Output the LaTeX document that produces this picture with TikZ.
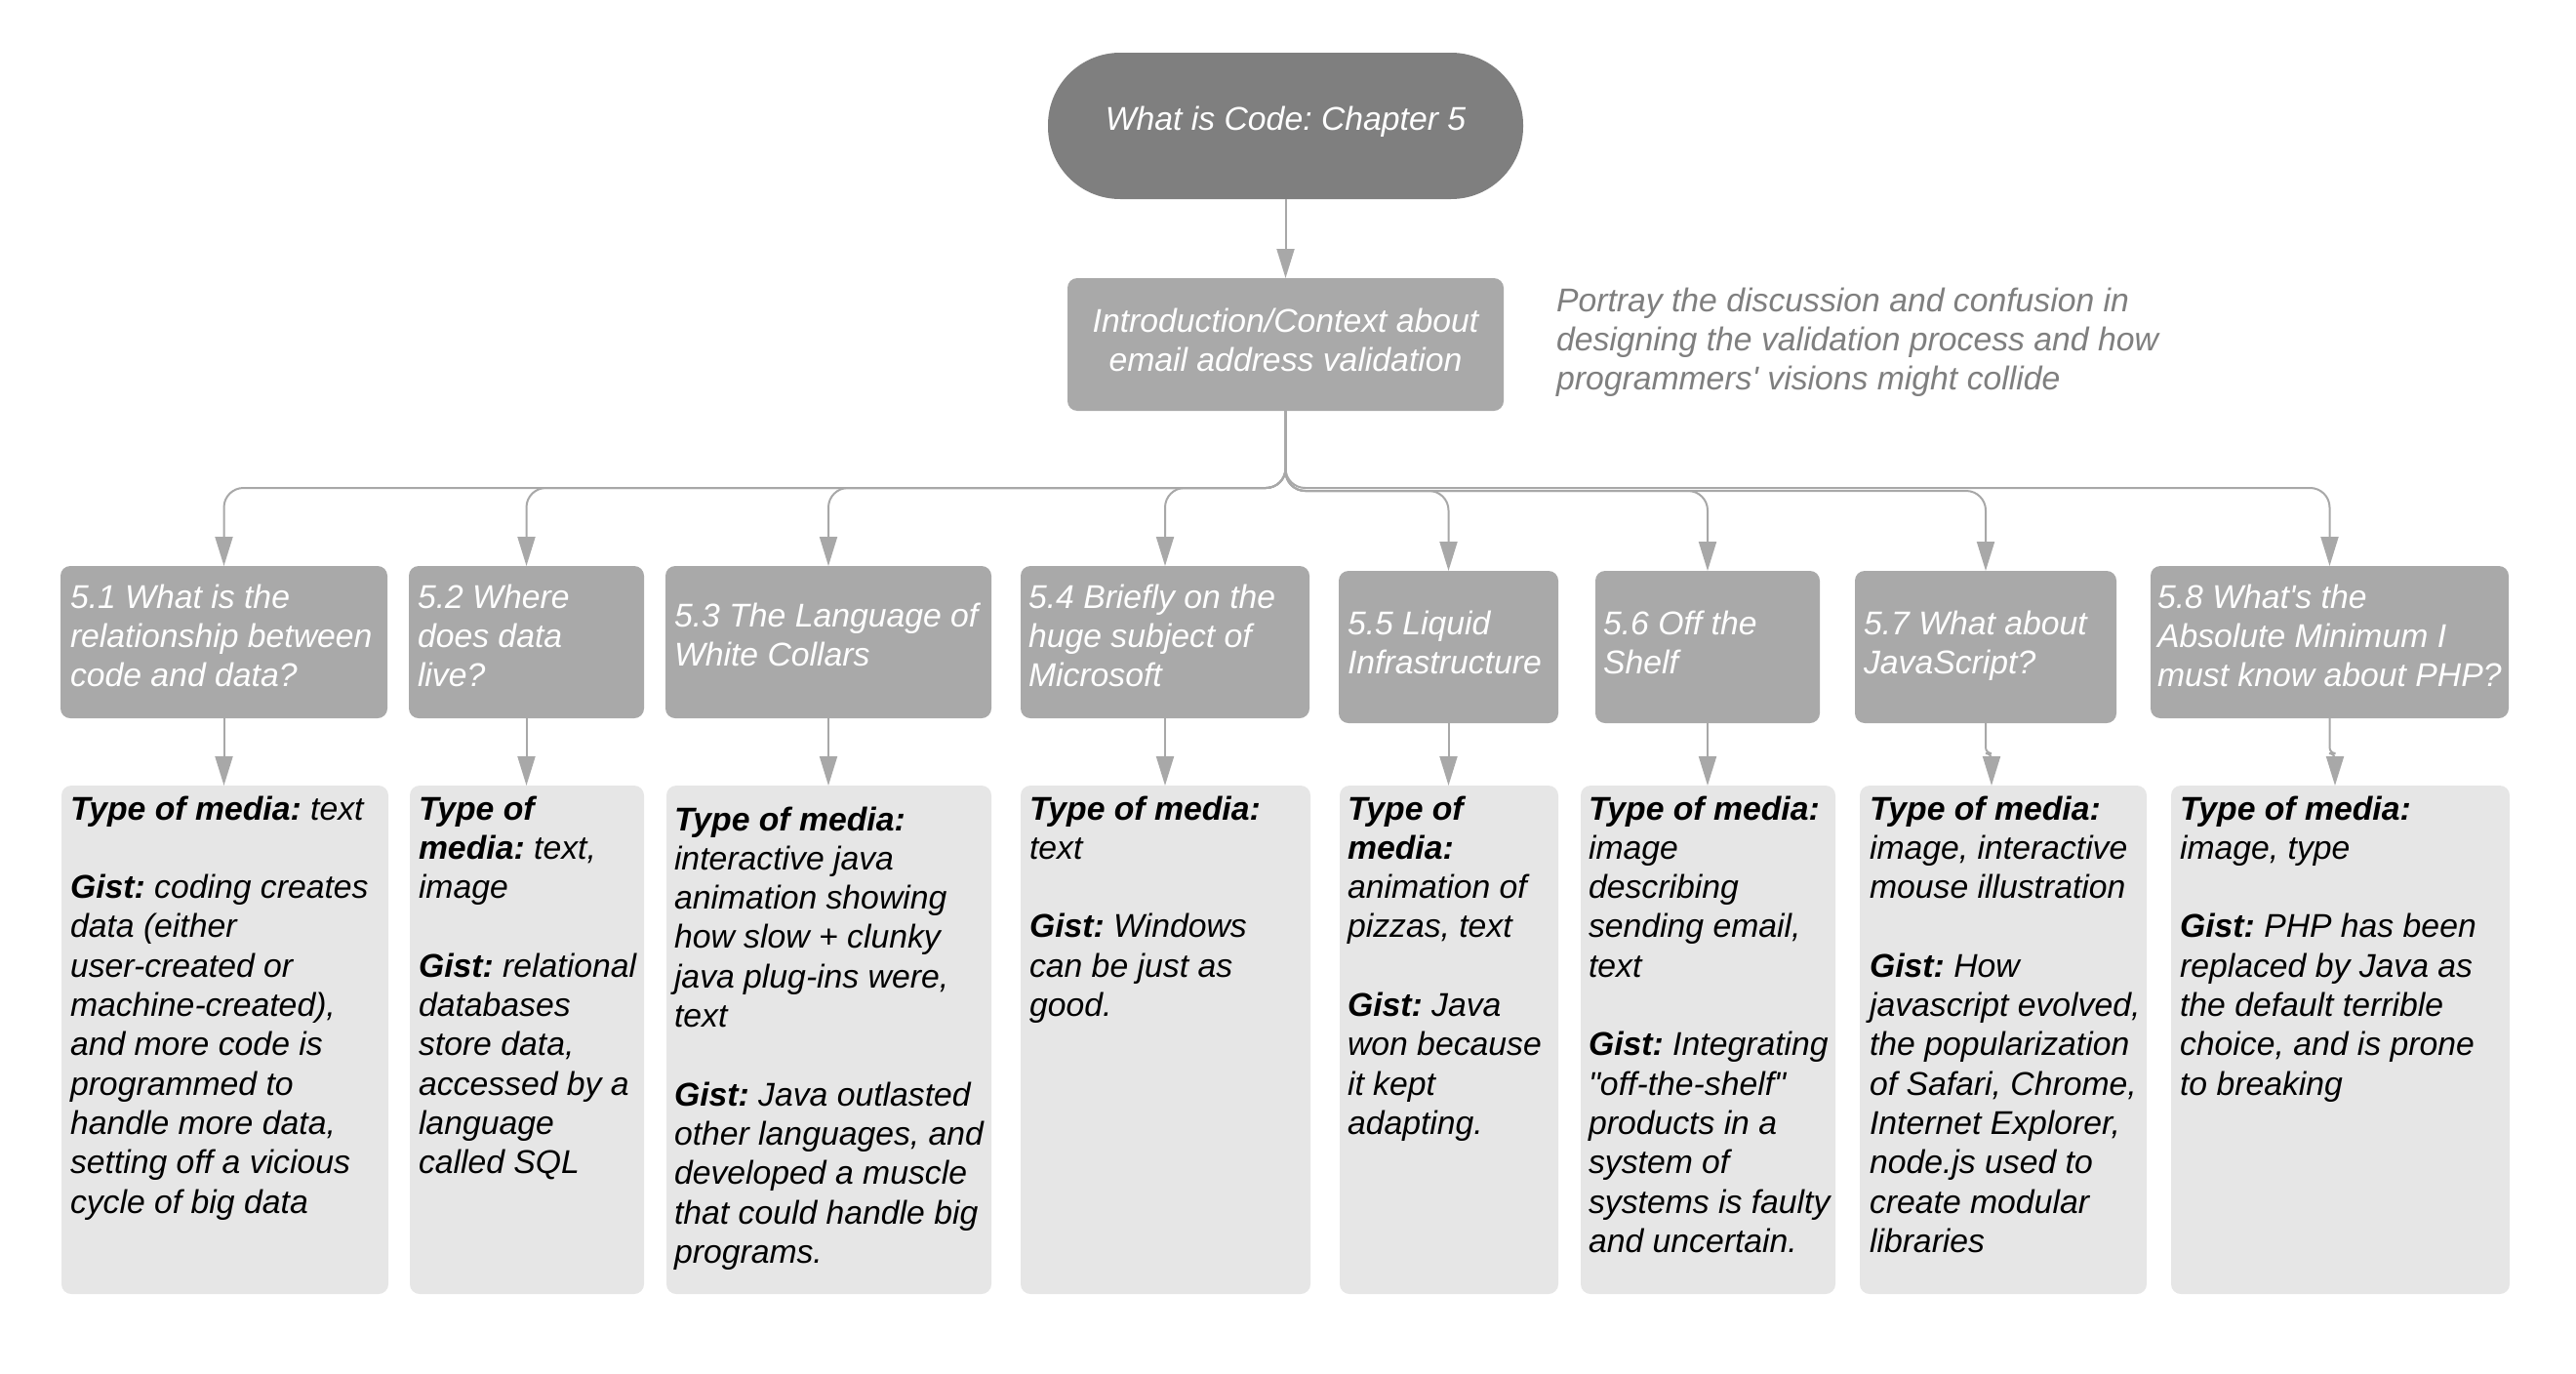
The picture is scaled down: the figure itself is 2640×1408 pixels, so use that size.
\documentclass[tikz,border=0pt]{standalone}
\usepackage{fontspec}
\newfontfamily\lsans{Liberation Sans}
\usetikzlibrary{arrows.meta}
\definecolor{darkfill}{HTML}{7F7F7F}
\definecolor{midfill}{HTML}{A9A9A9}
\definecolor{lightfill}{HTML}{E6E6E6}
\definecolor{linegray}{HTML}{A8A8A8}
\definecolor{notegray}{HTML}{7F7F7F}
\frenchspacing
\newcommand\mylines[1]{\parbox[t]{400pt}{\raggedright\frenchspacing #1}}
\newcommand\bl[1]{{\bfseries #1}}
\begin{document}
\begin{tikzpicture}[x=0.5pt,y=-0.5pt,
  every node/.style={inner sep=0pt, outer sep=0pt},
  basefont/.style={font=\lsans\itshape\fontsize{16.87}{20.15}\selectfont\frenchspacing},
  txt/.style={basefont, anchor=base west},
  wtxt/.style={txt, text=white},
  hbox/.style={fill=midfill, rounded corners=5pt, minimum height=78pt},
  dbox/.style={fill=lightfill, rounded corners=5pt, minimum height=260.5pt},
  conn/.style={draw=linegray, line width=1pt, rounded corners=10pt, -{Triangle[length=15pt,width=9pt]}},
]
\useasboundingbox (0,0) rectangle (2640,1408);

% top
\node[fill=darkfill, minimum width=243.5pt, minimum height=75pt, rounded corners=37pt, text=white, basefont, text depth=7.5pt] (top) at (1317.5,129) {What is Code: Chapter 5};
\node[fill=midfill, minimum width=223.5pt, minimum height=68pt, rounded corners=5pt, text=white, basefont, align=center, text depth=5pt] (intro) at (1317.5,353) {Introduction/Context about\\email address validation};
\node[txt, text=notegray] (note) at (1595,319) {\mylines{Portray the discussion and confusion in\\designing the validation process and how\\programmers' visions might collide}};

% row 1 boxes
\node[hbox, minimum width=167.5pt] (b1) at (229.5,658) {};
\node[hbox, minimum width=120.5pt] (b2) at (539.5,658) {};
\node[hbox, minimum width=167pt]   (b3) at (849,658) {};
\node[hbox, minimum width=148pt]   (b4) at (1194,658) {};
\node[hbox, minimum width=112.5pt] (b5) at (1484.5,663) {};
\node[hbox, minimum width=115pt]   (b6) at (1750,663) {};
\node[hbox, minimum width=134pt]   (b7) at (2035,663) {};
\node[hbox, minimum width=183.5pt] (b8) at (2387.5,658) {};

\node[wtxt] (h1) at (72,623)  {\mylines{5.1 What is the\\relationship between\\code and data?}};
\node[wtxt] (h2) at (428,623) {\mylines{5.2 Where\\does data\\live?}};
\node[wtxt] (h3) at (691,642) {\mylines{5.3 The Language of\\White Collars}};
\node[wtxt] (h4) at (1054,623) {\mylines{5.4 Briefly on the\\huge subject of\\Microsoft}};
\node[wtxt] (h5) at (1381,650) {\mylines{5.5 Liquid\\Infrastructure}};
\node[wtxt] (h6) at (1643,650) {\mylines{5.6 Off the\\Shelf}};
\node[wtxt] (h7) at (1910,650) {\mylines{5.7 What about\\JavaScript?}};
\node[wtxt] (h8) at (2211,623) {\mylines{5.8 What's the\\Absolute Minimum I\\must know about PHP?}};

% row 2 boxes
\node[dbox, minimum width=167.5pt] (r1) at (230.5,1065.5) {};
\node[dbox, minimum width=120pt]   (r2) at (540,1065.5) {};
\node[dbox, minimum width=166.5pt] (r3) at (849.5,1065.5) {};
\node[dbox, minimum width=148.5pt] (r4) at (1194.5,1065.5) {};
\node[dbox, minimum width=112pt]   (r5) at (1485,1065.5) {};
\node[dbox, minimum width=130.5pt] (r6) at (1750.5,1065.5) {};
\node[dbox, minimum width=147pt]   (r7) at (2053,1065.5) {};
\node[dbox, minimum width=173.5pt] (r8) at (2398.5,1065.5) {};

\node[txt] (g1) at (72,840) {\mylines{\bl{Type of media:} text\\\mbox{}\\\bl{Gist:} coding creates\\data (either\\user-created or\\machine-created),\\and more code is\\programmed to\\handle more data,\\setting off a vicious\\cycle of big data}};
\node[txt] (g2) at (429,840) {\mylines{\bl{Type of}\\\bl{media:} text,\\image\\\mbox{}\\\bl{Gist:} relational\\databases\\store data,\\accessed by a\\language\\called SQL}};
\node[txt] (g3) at (691,851) {\mylines{\bl{Type of media:}\\interactive java\\animation showing\\how slow + clunky\\java plug-ins were,\\text\\\mbox{}\\\bl{Gist:} Java outlasted\\other languages, and\\developed a muscle\\that could handle big\\programs.}};
\node[txt] (g4) at (1055,840) {\mylines{\bl{Type of media:}\\text\\\mbox{}\\\bl{Gist:} Windows\\can be just as\\good.}};
\node[txt] (g5) at (1381,840) {\mylines{\bl{Type of}\\\bl{media:}\\animation of\\pizzas, text\\\mbox{}\\\bl{Gist:} Java\\won because\\it kept\\adapting.}};
\node[txt] (g6) at (1628,840) {\mylines{\bl{Type of media:}\\image\\describing\\sending email,\\text\\\mbox{}\\\bl{Gist:} Integrating\\"off-the-shelf"\\products in a\\system of\\systems is faulty\\and uncertain.}};
\node[txt] (g7) at (1916,840) {\mylines{\bl{Type of media:}\\image, interactive\\mouse illustration\\\mbox{}\\\bl{Gist:} How\\javascript evolved,\\the popularization\\of Safari, Chrome,\\Internet Explorer,\\node.js used to\\create modular\\libraries}};
\node[txt] (g8) at (2234,840) {\mylines{\bl{Type of media:}\\image, type\\\mbox{}\\\bl{Gist:} PHP has been\\replaced by Java as\\the default terrible\\choice, and is prone\\to breaking}};

% connectors
\coordinate (busL) at (1317.5,500);
\coordinate (busR) at (1317.5,503);
\draw[conn] (top.south) -- (intro.north);
\foreach \b in {b1,b2,b3,b4,b8}{
  \draw[conn] (intro.south) |- (\b.north |- busL) -- (\b.north);
}
\foreach \b in {b5,b6,b7}{
  \draw[conn] (intro.south) |- (\b.north |- busR) -- (\b.north);
}
\foreach \b/\r in {b1/r1,b2/r2,b3/r3,b4/r4,b5/r5,b6/r6}{
  \draw[conn] (\b.south) -- (\b.south |- \r.north);
}
\coordinate (j7) at (2041,772);
\coordinate (j8) at (2393,772);
\draw[conn, rounded corners=3pt] (b7.south) |- (j7) -- (j7 |- r7.north);
\draw[conn, rounded corners=3pt] (b8.south) |- (j8) -- (j8 |- r8.north);
\end{tikzpicture}
\end{document}
